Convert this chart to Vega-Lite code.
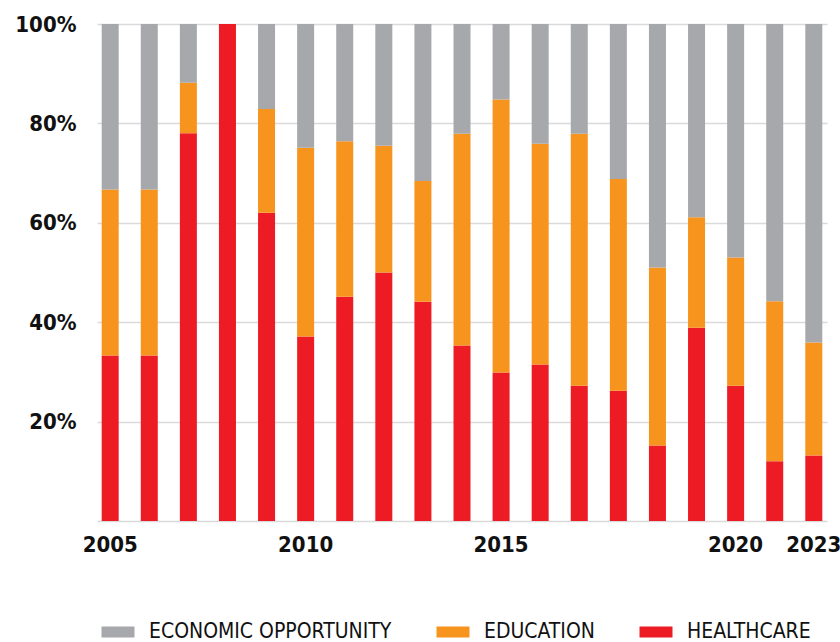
{
  "$schema": "https://vega.github.io/schema/vega-lite/v6.json",
  "autosize": {"type": "none"},
  "padding": {"left": 97, "top": 24, "right": 13, "bottom": 121},
  "width": 730,
  "height": 497,
  "background": "white",
  "config": {
    "view": {"stroke": null},
    "font": "DejaVu Sans Condensed"
  },
  "data": {
    "values": [
      {"year": "2005", "category": "HEALTHCARE", "value": 33.3},
      {"year": "2005", "category": "EDUCATION", "value": 33.4},
      {"year": "2005", "category": "ECONOMIC OPPORTUNITY", "value": 33.3},
      {"year": "2006", "category": "HEALTHCARE", "value": 33.3},
      {"year": "2006", "category": "EDUCATION", "value": 33.4},
      {"year": "2006", "category": "ECONOMIC OPPORTUNITY", "value": 33.3},
      {"year": "2007", "category": "HEALTHCARE", "value": 78.0},
      {"year": "2007", "category": "EDUCATION", "value": 10.2},
      {"year": "2007", "category": "ECONOMIC OPPORTUNITY", "value": 11.8},
      {"year": "2008", "category": "HEALTHCARE", "value": 100},
      {"year": "2008", "category": "EDUCATION", "value": 0},
      {"year": "2008", "category": "ECONOMIC OPPORTUNITY", "value": 0},
      {"year": "2009", "category": "HEALTHCARE", "value": 62.0},
      {"year": "2009", "category": "EDUCATION", "value": 20.9},
      {"year": "2009", "category": "ECONOMIC OPPORTUNITY", "value": 17.1},
      {"year": "2010", "category": "HEALTHCARE", "value": 37.1},
      {"year": "2010", "category": "EDUCATION", "value": 38.0},
      {"year": "2010", "category": "ECONOMIC OPPORTUNITY", "value": 24.9},
      {"year": "2011", "category": "HEALTHCARE", "value": 45.1},
      {"year": "2011", "category": "EDUCATION", "value": 31.3},
      {"year": "2011", "category": "ECONOMIC OPPORTUNITY", "value": 23.6},
      {"year": "2012", "category": "HEALTHCARE", "value": 50.0},
      {"year": "2012", "category": "EDUCATION", "value": 25.5},
      {"year": "2012", "category": "ECONOMIC OPPORTUNITY", "value": 24.5},
      {"year": "2013", "category": "HEALTHCARE", "value": 44.1},
      {"year": "2013", "category": "EDUCATION", "value": 24.3},
      {"year": "2013", "category": "ECONOMIC OPPORTUNITY", "value": 31.6},
      {"year": "2014", "category": "HEALTHCARE", "value": 35.3},
      {"year": "2014", "category": "EDUCATION", "value": 42.6},
      {"year": "2014", "category": "ECONOMIC OPPORTUNITY", "value": 22.1},
      {"year": "2015", "category": "HEALTHCARE", "value": 29.9},
      {"year": "2015", "category": "EDUCATION", "value": 54.9},
      {"year": "2015", "category": "ECONOMIC OPPORTUNITY", "value": 15.2},
      {"year": "2016", "category": "HEALTHCARE", "value": 31.5},
      {"year": "2016", "category": "EDUCATION", "value": 44.4},
      {"year": "2016", "category": "ECONOMIC OPPORTUNITY", "value": 24.1},
      {"year": "2017", "category": "HEALTHCARE", "value": 27.2},
      {"year": "2017", "category": "EDUCATION", "value": 50.7},
      {"year": "2017", "category": "ECONOMIC OPPORTUNITY", "value": 22.1},
      {"year": "2018", "category": "HEALTHCARE", "value": 26.2},
      {"year": "2018", "category": "EDUCATION", "value": 42.6},
      {"year": "2018", "category": "ECONOMIC OPPORTUNITY", "value": 31.2},
      {"year": "2019", "category": "HEALTHCARE", "value": 15.2},
      {"year": "2019", "category": "EDUCATION", "value": 35.8},
      {"year": "2019", "category": "ECONOMIC OPPORTUNITY", "value": 49.0},
      {"year": "2020", "category": "HEALTHCARE", "value": 38.9},
      {"year": "2020", "category": "EDUCATION", "value": 22.2},
      {"year": "2020", "category": "ECONOMIC OPPORTUNITY", "value": 38.9},
      {"year": "2021", "category": "HEALTHCARE", "value": 27.2},
      {"year": "2021", "category": "EDUCATION", "value": 25.8},
      {"year": "2021", "category": "ECONOMIC OPPORTUNITY", "value": 47.0},
      {"year": "2022", "category": "HEALTHCARE", "value": 12.0},
      {"year": "2022", "category": "EDUCATION", "value": 32.2},
      {"year": "2022", "category": "ECONOMIC OPPORTUNITY", "value": 55.8},
      {"year": "2023", "category": "HEALTHCARE", "value": 13.2},
      {"year": "2023", "category": "EDUCATION", "value": 22.7},
      {"year": "2023", "category": "ECONOMIC OPPORTUNITY", "value": 64.1}
    ]
  },
  "mark": {"type": "bar"},
  "encoding": {
    "x": {
      "field": "year",
      "type": "ordinal",
      "scale": {"paddingInner": 0.565, "paddingOuter": 0.12},
      "axis": {
        "title": null,
        "domain": false,
        "ticks": false,
        "labelAngle": 0,
        "labelFont": "DejaVu Sans Condensed",
        "labelFontWeight": "bold",
        "labelFontSize": 22,
        "labelColor": "#111111",
        "labelPadding": 13,
        "labelExpr": "indexof(['2005','2010','2015','2020','2023'], datum.value) >= 0 ? datum.value : ''",
        "labelOffset": {"condition": {"test": "datum.value == '2020'", "value": 39}, "value": 0}
      }
    },
    "y": {
      "field": "value",
      "type": "quantitative",
      "stack": "zero",
      "scale": {"domain": [0, 100], "nice": false},
      "axis": {
        "title": null,
        "domain": false,
        "ticks": false,
        "values": [0, 20, 40, 60, 80, 100],
        "labelExpr": "datum.value == 0 ? '' : datum.value + '%'",
        "labelFont": "DejaVu Sans Condensed",
        "labelFontWeight": "bold",
        "labelFontSize": 22,
        "labelColor": "#111111",
        "labelPadding": 21,
        "gridColor": "#DADADA",
        "gridWidth": 1.5
      }
    },
    "color": {
      "field": "category",
      "type": "nominal",
      "scale": {
        "domain": ["ECONOMIC OPPORTUNITY", "EDUCATION", "HEALTHCARE"],
        "range": ["#A7A8AB", "#F7941E", "#ED1C24"]
      },
      "legend": {
        "title": null,
        "orient": "bottom",
        "direction": "horizontal",
        "offset": 56,
        "padding": 10,
        "labelFont": "DejaVu Sans Condensed",
        "labelFontSize": 21,
        "labelColor": "#111111",
        "labelLimit": 400,
        "labelOffset": 20,
        "columnPadding": 44,
        "symbolType": "M-1.5,-0.5H1.5V0.5H-1.5Z",
        "symbolSize": 484,
        "symbolStrokeWidth": 0,
        "symbolOpacity": 1
      }
    },
    "order": {"field": "category", "sort": "descending"}
  }
}
